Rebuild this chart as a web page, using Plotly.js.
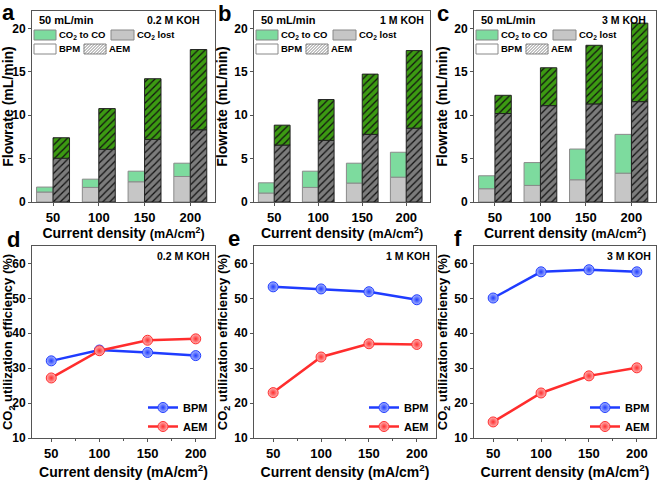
<!DOCTYPE html>
<html>
<head>
<meta charset="utf-8">
<script src="https://cdn.plot.ly/plotly-3.0.1.min.js"></script>
<style>
  html, body { margin: 0; padding: 0; background: #fff; }
  #chart { width: 658px; height: 480px; }
</style>
</head>
<body>
<div id="chart"></div>
<script>
// current densities (mA/cm2)
const currents = [50, 100, 150, 200];
const kohLabels = ['0.2 M KOH', '1 M KOH', '3 M KOH'];

// flowrate (mL/min), one row per KOH concentration
const bpmLost = [[1.15, 1.68, 2.33, 2.94], [1.03, 1.68, 2.18, 2.86], [1.53, 1.91, 2.56, 3.32]];
const bpmToCO = [[0.57, 0.95, 1.22, 1.53], [1.18, 1.87, 2.29, 2.87], [1.49, 2.63, 3.54, 4.47]];
const aemLost = [[5.04, 6.07, 7.21, 8.32], [6.56, 7.10, 7.79, 8.51], [10.19, 11.10, 11.30, 11.56]];
const aemToCO = [[2.36, 4.69, 6.99, 9.24], [2.29, 4.70, 6.94, 8.93], [2.10, 4.36, 6.75, 9.04]];

// CO2 utilization efficiency (%)
const bpmEff = [[32.1, 35.2, 34.5, 33.6], [53.3, 52.7, 51.9, 49.6], [50.1, 57.6, 58.2, 57.6]];
const aemEff = [[27.2, 35.0, 38.0, 38.4], [23.0, 33.2, 37.0, 36.8], [14.6, 22.9, 27.8, 30.1]];

const W = 658, H = 480;
const px = v => v / W;
const py = v => 1 - v / H;
const FONT = 'Arial, "Liberation Sans", sans-serif';

const colors = {
    bpmCO: '#7ddb9e',
    bpmLost: '#c6c6c6',
    aemCO: '#3c9b12',
    aemLost: '#7c7c7c',
    bpm: '#1f3cff',
    aem: '#ff2d2d'
};

// panel frames in pixels: [left, right], [top, bottom]
const frameX = [[32, 215], [254, 430], [474, 656], [32, 215], [254, 436], [474, 656]];
const frameTop = [11, 202];
const frameBot = [246, 438];

const suffix = i => (i === 0 ? '' : String(i + 1));
const barW = 18;

const traces = [];

function hatch(color) {
    return { shape: '/', fgcolor: '#111', bgcolor: color, size: 5, solidity: 0.25, fillmode: 'replace' };
}

for (let p = 0; p < 3; p++) {
    const xa = 'x' + suffix(p), ya = 'y' + suffix(p);
    const common = { type: 'bar', x: currents, xaxis: xa, yaxis: ya, width: barW, showlegend: false, hoverinfo: 'skip' };
    traces.push({ ...common, y: bpmLost[p], offset: -barW,
        marker: { color: colors.bpmLost, line: { color: '#8a8a8a', width: 1 } } });
    traces.push({ ...common, y: bpmToCO[p], base: bpmLost[p], offset: -barW,
        marker: { color: colors.bpmCO, line: { color: '#8a8a8a', width: 1 } } });
    traces.push({ ...common, y: aemLost[p], offset: 0,
        marker: { color: colors.aemLost, line: { color: '#222', width: 1 }, pattern: hatch(colors.aemLost) } });
    traces.push({ ...common, y: aemToCO[p], base: aemLost[p], offset: 0,
        marker: { color: colors.aemCO, line: { color: '#222', width: 1 }, pattern: hatch(colors.aemCO) } });
}

const legendNames = ['legend', 'legend2', 'legend3'];
for (let p = 0; p < 3; p++) {
    const xa = 'x' + suffix(p + 3), ya = 'y' + suffix(p + 3);
    [['BPM', bpmEff[p], colors.bpm, '#aab8ff'], ['AEM', aemEff[p], colors.aem, '#ffb4b4']].forEach(([name, y, c, light]) => {
        traces.push({
            type: 'scatter', mode: 'lines+markers', name, x: currents, y, xaxis: xa, yaxis: ya,
            legend: legendNames[p],
            line: { color: c, width: 2.5 },
            marker: { size: 10, color: light, gradient: { type: 'radial', color: c }, line: { color: c, width: 1 } },
            hoverinfo: 'x+y'
        });
    });
}

const tickFontX = { family: FONT, size: 13, color: '#000', weight: 'bold' };
const tickFontY = { family: FONT, size: 12, color: '#000', weight: 'bold' };

const layout = {
    width: W, height: H,
    margin: { l: 0, r: 0, t: 0, b: 0 },
    paper_bgcolor: '#fff',
    plot_bgcolor: '#fff',
    barmode: 'overlay',
    font: { family: FONT, color: '#000' },
    shapes: [],
    annotations: []
};

for (let i = 0; i < 6; i++) {
    const top = i < 3;
    const fy = top ? frameTop : frameBot;
    const axisBase = {
        showline: true, mirror: true, linecolor: '#555', linewidth: 1,
        ticks: 'outside', ticklen: 3, tickcolor: '#555',
        showgrid: false, zeroline: false
    };
    layout['xaxis' + suffix(i)] = {
        ...axisBase,
        anchor: 'y' + suffix(i),
        domain: [px(frameX[i][0]), px(frameX[i][1])],
        range: top ? [27, 227] : [30, 220],
        tickvals: currents,
        tickfont: tickFontX,
        minor: top ? undefined : { dtick: 25, tick0: 0, ticks: 'outside', ticklen: 2, tickcolor: '#555' },
        title: {
            text: top ? 'Current density <span style="font-size:12.5px">(mA/cm<sup>2</sup>)</span>'
                      : 'Current density (mA/cm<sup>2</sup>)',
            font: { family: FONT, size: 14, color: '#000', weight: 'bold' },
            standoff: top ? 0 : 7
        }
    };
    layout['yaxis' + suffix(i)] = {
        ...axisBase,
        anchor: 'x' + suffix(i),
        domain: [py(fy[1]), py(fy[0])],
        range: top ? [0, 22] : [10, 65],
        dtick: top ? 5 : 10,
        tick0: 0,
        tickfont: tickFontY,
        title: {
            text: top ? 'Flowrate (mL/min)' : 'CO<sub>2</sub> utilization efficiency (%)',
            font: { family: FONT, size: top ? 14 : 13, color: '#000', weight: 'bold' },
            standoff: 3
        }
    };
}

// bottom-panel legends
const legendRight = [213, 434, 655];
legendNames.forEach((ln, p) => {
    layout[ln] = {
        x: px(legendRight[p]), y: py(441), xanchor: 'right', yanchor: 'bottom',
        bgcolor: 'rgba(0,0,0,0)', borderwidth: 0,
        font: { family: FONT, size: 11, color: '#000', weight: 'bold' },
        itemwidth: 30, tracegroupgap: 0
    };
});

function note(text, x, y, size, xanchor) {
    layout.annotations.push({
        text, xref: 'paper', yref: 'paper', x: px(x), y: py(y),
        xanchor: xanchor || 'left', yanchor: 'middle', showarrow: false,
        font: { family: FONT, size, color: '#000', weight: 'bold' }
    });
}

// panel letters
[['a', 8, 12], ['b', 224, 13], ['c', 443, 13], ['d', 13, 239], ['e', 234, 238], ['f', 458, 238]]
    .forEach(([t, x, y]) => note(t, x, y, 22, 'center'));

// flowrate panel labels and hand-drawn key
const kohRightTop = [202, 426, 648];
const kohRightBot = [212, 432, 653];
function rect(x0, y0, x1, y1, fill, lineColor) {
    layout.shapes.push({ type: 'rect', xref: 'paper', yref: 'paper',
        x0: px(x0), x1: px(x1), y0: py(y1), y1: py(y0),
        fillcolor: fill, line: { color: lineColor, width: 1 } });
}
function hatchLines(x0, y0, x1, y1, step) {
    const h = y1 - y0;
    for (let t = x0 - h + step / 2; t < x1; t += step) {
        let sx = t, sy = y1, ex = t + h, ey = y0;
        if (sx < x0) { sy = y1 - (x0 - sx); sx = x0; }
        if (ex > x1) { ey = y0 + (ex - x1); ex = x1; }
        layout.shapes.push({ type: 'line', xref: 'paper', yref: 'paper',
            x0: px(sx), y0: py(sy), x1: px(ex), y1: py(ey), line: { color: '#666', width: 0.8 } });
    }
}

for (let p = 0; p < 3; p++) {
    const L = frameX[p][0];
    note('50 mL/min', L + 5, 20, 11);
    note(kohLabels[p], kohRightTop[p], 20, 10.5, 'right');
    // row 1
    rect(L + 2, 30, L + 24, 40, colors.bpmCO, '#888');
    note('CO<sub>2</sub> to CO', L + 25, 35, 9.5);
    rect(L + 79, 30, L + 102, 40, colors.bpmLost, '#888');
    note('CO<sub>2</sub> lost', L + 103, 35, 9.5);
    // row 2
    rect(L + 2, 44, L + 24, 54, '#fff', '#888');
    note('BPM', L + 25, 49, 9.5);
    rect(L + 52, 44, L + 74, 54, '#fff', '#888');
    hatchLines(L + 52, 44, L + 74, 54, 3);
    note('AEM', L + 75, 49, 9.5);

    note(kohLabels[p], kohRightBot[p], 256, 10.5, 'right');
}

Plotly.newPlot('chart', traces, layout, { displayModeBar: false, staticPlot: true });
</script>
</body>
</html>
